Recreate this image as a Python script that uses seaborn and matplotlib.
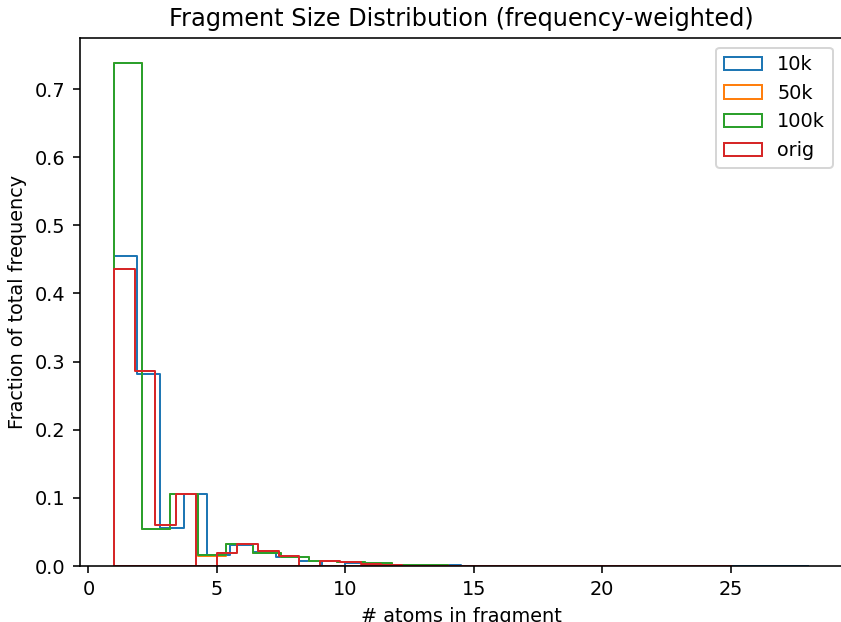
import matplotlib
matplotlib.use("Agg")
import matplotlib.pyplot as plt
import numpy as np
import seaborn as sns

# fragment sizes (number of atoms) and their fraction of the total frequency
sizes_10k = list(range(1, 29))
frac_10k = [0.455, 0.282, 0.056, 0.105, 0.016, 0.031, 0.020, 0.013, 0.008,
            0.004, 0.003, 0.002, 0.0015, 0.001,
            0, 0, 0, 0, 0, 0, 0, 0, 0, 0, 0, 0, 0, 0.0001]

sizes_50k = list(range(1, 15))
frac_50k = [0.456, 0.282, 0.055, 0.105, 0.014, 0.032, 0.019, 0.013, 0.008,
            0.006, 0.004, 0.002, 0.001, 0.001]

sizes_100k = list(range(1, 15))
frac_100k = [0.456, 0.282, 0.055, 0.105, 0.016, 0.032, 0.019, 0.013, 0.008,
             0.006, 0.004, 0.002, 0.001, 0.001]

sizes_orig = list(range(1, 26))
frac_orig = [0.436, 0.286, 0.060, 0.105, 0.019, 0.033, 0.022, 0.014, 0.008,
             0.006, 0.003, 0.0015,
             0, 0, 0, 0, 0, 0, 0, 0, 0, 0, 0, 0, 0.0001]

series = [
    ('10k', sizes_10k, frac_10k, 30),
    ('50k', sizes_50k, frac_50k, 12),
    ('100k', sizes_100k, frac_100k, 12),
    ('orig', sizes_orig, frac_orig, 30),
]
colors = sns.color_palette('tab10', 4)

plt.rcParams['font.size'] = 9.6
plt.rcParams['axes.titlesize'] = 12

fig = plt.figure(figsize=(841 / 144, 622 / 144), dpi=144)
ax = fig.add_axes([79.5 / 841, 1 - 566 / 622, 763 / 841, 528 / 622])

# weights are already fractions, so the summed weights per bin are the heights
for (name, sizes, fracs, nbins), color in zip(series, colors):
    sns.histplot(x=sizes, weights=fracs, bins=nbins, stat='count',
                 element='step', fill=True, facecolor='none', color=color,
                 linewidth=1.0, label=name, ax=ax)

# same autoscale as a plain matplotlib step histogram
all_sizes = sizes_10k + sizes_50k + sizes_100k + sizes_orig
lo, hi = min(all_sizes), max(all_sizes)
pad = 0.05 * (hi - lo)
ax.set_xlim(lo - pad, hi + pad)
ax.set_ylim(bottom=0)
for sp in ax.spines.values():
    sp.set_zorder(3)

ax.set_title('Fragment Size Distribution (frequency-weighted)')
ax.set_xlabel('# atoms in fragment')
ax.set_ylabel('Fraction of total frequency')
ax.legend(loc='upper right')

fig.savefig('out.png', dpi=144)
